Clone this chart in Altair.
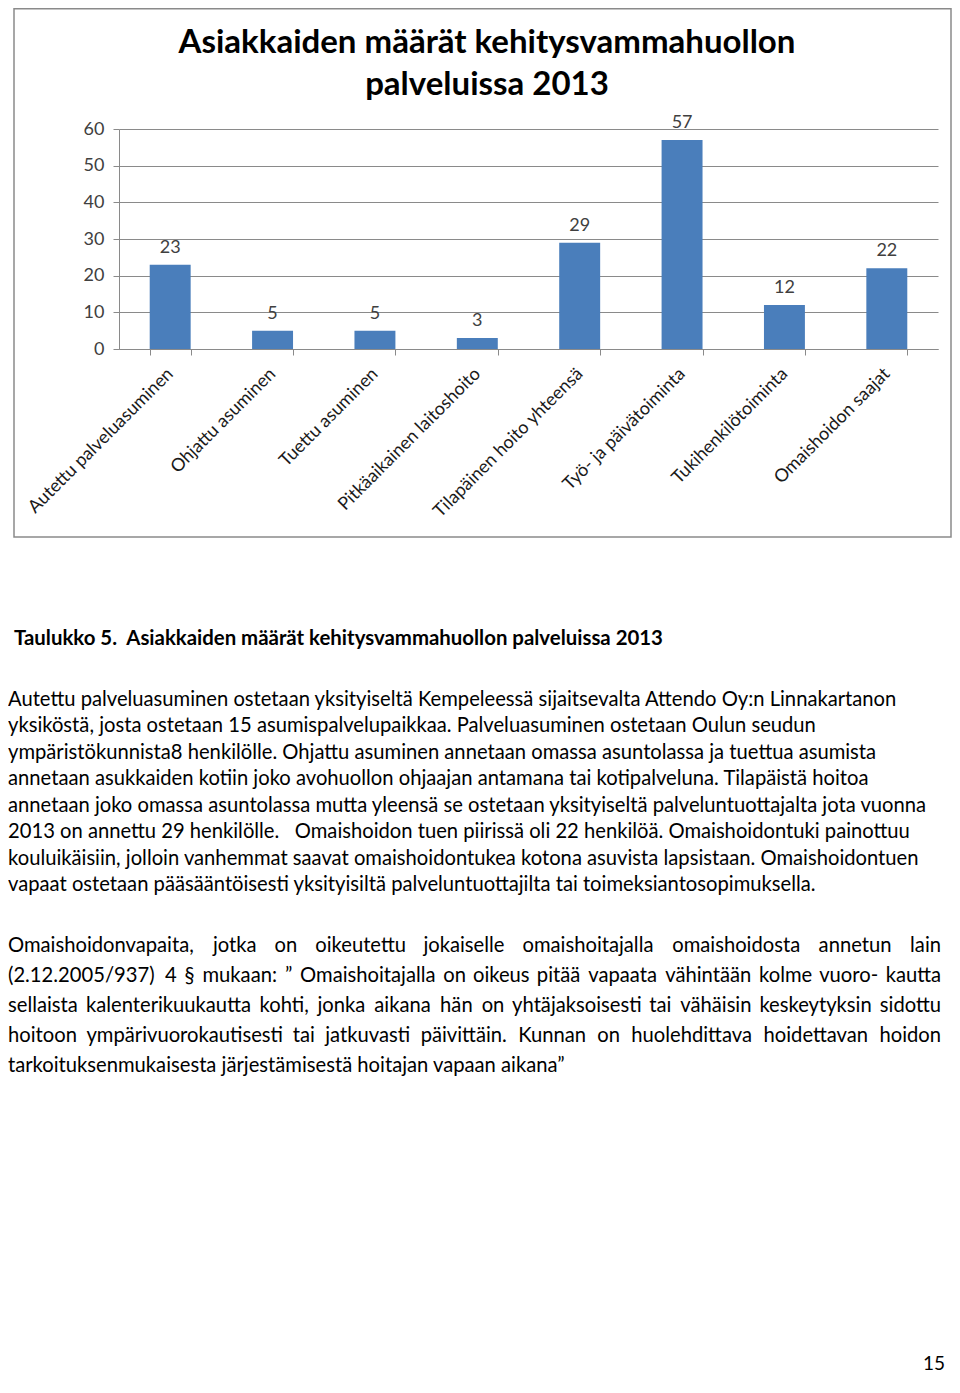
import altair as alt
import pandas as pd

# ---------------- data ----------------
categories = [
    "Autettu palveluasuminen",
    "Ohjattu asuminen",
    "Tuettu asuminen",
    "Pitkäaikainen laitoshoito",
    "Tilapäinen hoito yhteensä",
    "Työ- ja päivätoiminta",
    "Tukihenkilötoiminta",
    "Omaishoidon saajat",
]
values = [23, 5, 5, 3, 29, 57, 12, 22]
y_ticks = [0, 10, 20, 30, 40, 50, 60]

title_lines = ["Asiakkaiden määrät kehitysvammahuollon", "palveluissa 2013"]
caption = "Taulukko 5.\u00a0 Asiakkaiden määrät kehitysvammahuollon palveluissa 2013"
para1 = [
    "Autettu palveluasuminen ostetaan yksityiseltä Kempeleessä sijaitsevalta Attendo Oy:n Linnakartanon",
    "yksiköstä, josta ostetaan 15 asumispalvelupaikkaa. Palveluasuminen ostetaan Oulun seudun",
    "ympäristökunnista8 henkilölle. Ohjattu asuminen annetaan omassa asuntolassa ja tuettua asumista",
    "annetaan asukkaiden kotiin joko avohuollon ohjaajan antamana tai kotipalveluna. Tilapäistä hoitoa",
    "annetaan joko omassa asuntolassa mutta yleensä se ostetaan yksityiseltä palveluntuottajalta jota vuonna",
    "2013 on annettu 29 henkilölle.\u00a0\u00a0 Omaishoidon tuen piirissä oli 22 henkilöä. Omaishoidontuki painottuu",
    "kouluikäisiin, jolloin vanhemmat saavat omaishoidontukea kotona asuvista lapsistaan. Omaishoidontuen",
    "vapaat ostetaan pääsääntöisesti yksityisiltä palveluntuottajilta tai toimeksiantosopimuksella.",
]
para2 = [
    "Omaishoidonvapaita, jotka on oikeutettu jokaiselle omaishoitajalla omaishoidosta annetun lain",
    "(2.12.2005/937) 4 § mukaan: ” Omaishoitajalla on oikeus pitää vapaata vähintään kolme vuoro- kautta",
    "sellaista kalenterikuukautta kohti, jonka aikana hän on yhtäjaksoisesti tai vähäisin keskeytyksin sidottu",
    "hoitoon ympärivuorokautisesti tai jatkuvasti päivittäin. Kunnan on huolehdittava hoidettavan hoidon",
    "tarkoituksenmukaisesta järjestämisestä hoitajan vapaan aikana”",
]
page_number = "15"

# ---------------- layout ----------------
FONT = "Lato"
W, H = 819, 220          # plot area
OX, OY = 119, 129        # plot-area origin on the page
M = 8                    # page margin
SVG_W, SVG_H = 944, 1368
PAD = {"left": OX - M, "top": OY - M,
       "right": SVG_W - (OX - M) - W, "bottom": SVG_H - (OY - M) - H}


def rx(px):
    return px - OX


def ry(py):
    return py - OY


def text_layer(s, x, y, size, weight="normal", align="left", color="#000000"):
    return alt.Chart(pd.DataFrame({"t": [s]})).mark_text(
        align=align, baseline="alphabetic", fontSize=size, fontWeight=weight,
        font=FONT, color=color
    ).encode(x=alt.value(rx(x)), y=alt.value(ry(y)), text="t:N")


# approximate advance widths (em) for justification
def char_w(c):
    if c in "ijl.,:;'|!": return 0.23
    if c in " \u00a0": return 0.25
    if c in "ftr": return 0.34
    if c in "()": return 0.30
    if c == "/": return 0.37
    if c == "-": return 0.33
    if c in "”\"": return 0.38
    if c == "s": return 0.41
    if c == "z": return 0.43
    if c == "c": return 0.45
    if c in "eäag": return 0.50
    if c in "kvyx": return 0.48
    if c in "bdhnopquö": return 0.55
    if c == "m": return 0.83
    if c == "w": return 0.74
    if c.isdigit(): return 0.58
    if c == "§": return 0.52
    if c == "O": return 0.75
    if c.isupper(): return 0.62
    return 0.5


def est_w(s, size, k=1.0):
    return sum(char_w(c) for c in s) * size * k


P_SIZE = 20.2
K = 1.025

frame = alt.Chart(pd.DataFrame({"k": [0]})).mark_rect(
    fillOpacity=0, stroke="#8a8a8a", strokeWidth=1.5
).encode(x=alt.value(rx(14)), x2=alt.value(rx(951)),
         y=alt.value(ry(8.8)), y2=alt.value(ry(537)))

layers = [frame]
layers.append(text_layer(title_lines[0], 487, 53, 33, "bold", "center"))
layers.append(text_layer(title_lines[1], 487, 95, 33, "bold", "center"))

df = pd.DataFrame({"cat": categories, "v": values})
base = alt.Chart(df).encode(
    x=alt.X("cat:N", sort=categories,
            scale=alt.Scale(paddingInner=0.6, paddingOuter=0.3),
            axis=alt.Axis(title=None, labelAngle=315, labelAlign="right",
                          labelBaseline="middle", labelFontSize=18, labelFont=FONT,
                          labelColor="#1a1a1a", labelPadding=16, labelLimit=0,
                          tickBand="extent", tickSize=6, tickColor="#8a8a8a",
                          domainColor="#8a8a8a", grid=False)),
    y=alt.Y("v:Q", scale=alt.Scale(domain=[0, 60]),
            axis=alt.Axis(title=None, values=y_ticks, labelFontSize=18, labelFont=FONT,
                          labelColor="#404040", labelPadding=9, tickSize=6,
                          tickColor="#8a8a8a", domainColor="#8a8a8a",
                          gridColor="#8a8a8a", grid=True)),
)
bars = base.mark_bar(color="#4a7ebb")
vlabels = base.mark_text(dy=-12, baseline="alphabetic", fontSize=18, font=FONT,
                         color="#404040").encode(text="v:Q")
layers += [bars, vlabels]

layers.append(text_layer(caption, 14, 645, 20.4, "bold"))

L, R = 8, 941
for i, line in enumerate(para1):
    yb = 706 + 26.45 * i
    layers.append(text_layer(line, L, yb, P_SIZE))

for i, line in enumerate(para2):
    yb = 952 + 30 * i
    if i == len(para2) - 1:
        layers.append(text_layer(line, L, yb, P_SIZE))
        continue
    words = line.split(" ")
    ws = [est_w(w, P_SIZE, K) for w in words]
    gap = (R - L - sum(ws)) / (len(words) - 1)
    x = L
    for j, (w, wd) in enumerate(zip(words, ws)):
        if j == 0:
            layers.append(text_layer(w, x, yb, P_SIZE, align="left"))
        elif j == len(words) - 1:
            layers.append(text_layer(w, R, yb, P_SIZE, align="right"))
        else:
            layers.append(text_layer(w, x + wd / 2, yb, P_SIZE, align="center"))
        x += wd + gap

layers.append(text_layer(page_number, 945, 1370, 19, align="right"))

chart = alt.layer(*layers).properties(
    width=W, height=H,
    autosize=alt.AutoSizeParams(type="none"),
    padding=PAD,
).configure_view(stroke=None)

chart.save("out.html", embed_options={"renderer": "svg", "actions": False})
